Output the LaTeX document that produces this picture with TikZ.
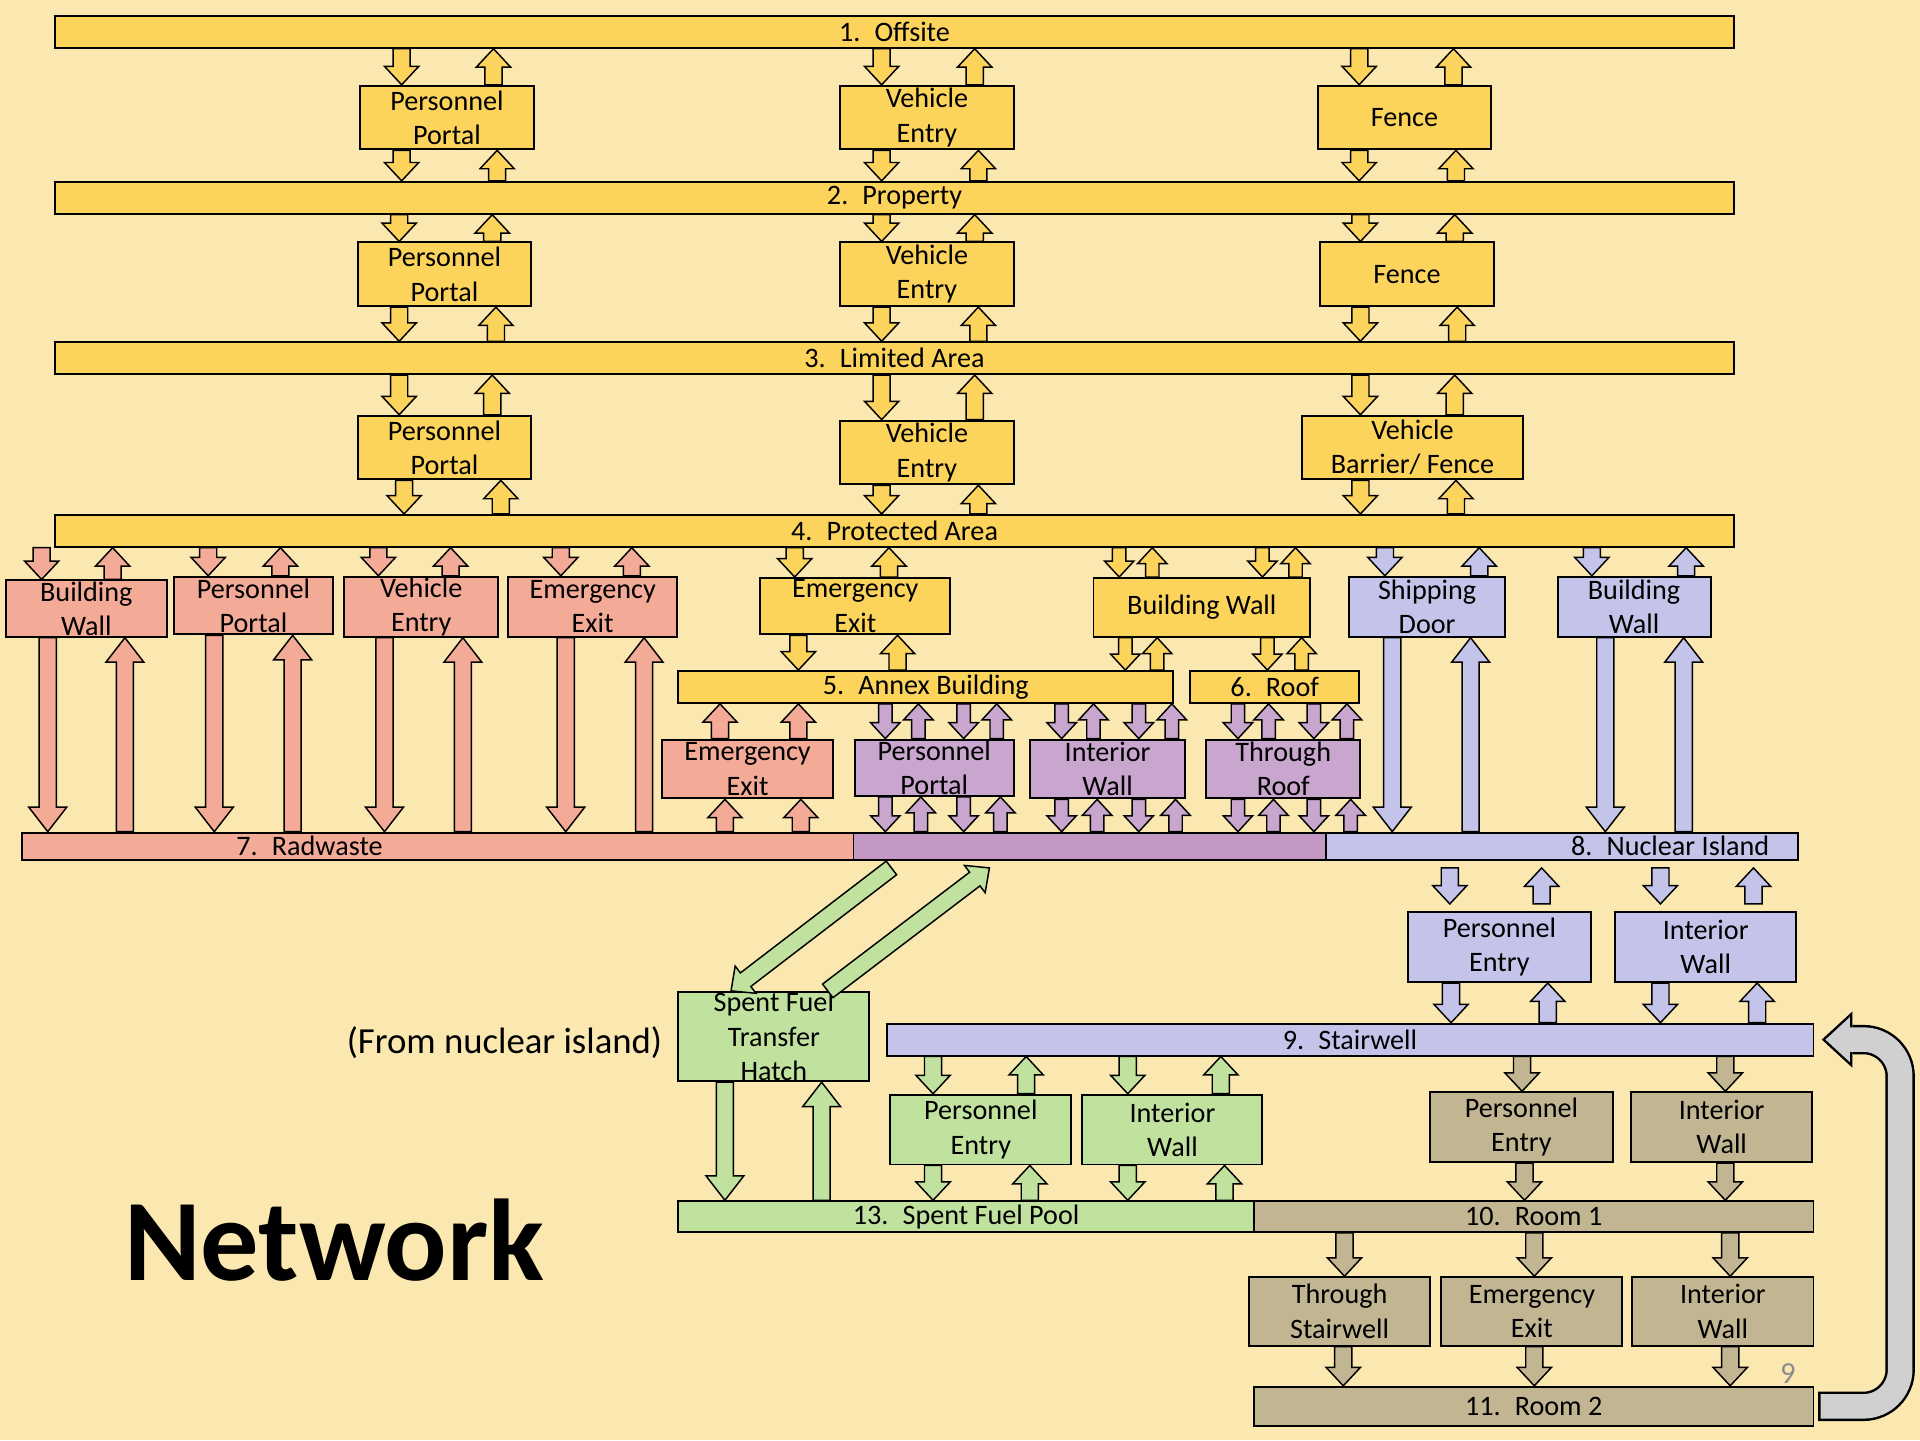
\documentclass[tikz,border=0pt]{standalone}
\usepackage{fontspec}
\setmainfont{Carlito}
\usetikzlibrary{calc,arrows.meta}

\definecolor{BG}{RGB}{250,232,176}
\definecolor{YEL}{RGB}{252,212,92}
\definecolor{RED}{RGB}{243,170,150}
\definecolor{PUR}{RGB}{200,166,205}
\definecolor{MIX}{RGB}{196,152,196}
\definecolor{BLU}{RGB}{196,196,234}
\definecolor{GRN}{RGB}{192,226,158}
\definecolor{OLV}{RGB}{194,182,146}
\definecolor{GRY}{RGB}{208,208,208}
\definecolor{PGN}{RGB}{140,140,140}

% block arrow: shaft half width, head half width, head length, colour, from, to
\newcommand{\blk}[6]{%
  \path #5 coordinate (ba) #6 coordinate (bb);
  \path ($(bb)!#3!(ba)$) coordinate (bc);
  \draw[line width=1.2pt, line join=miter, fill=#4] ($(ba)!#1!90:(bb)$) -- ($(bc)!#1!90:(bb)$) -- ($(bc)!#2!90:(bb)$) -- (bb) -- ($(bc)!#2!-90:(bb)$) -- ($(bc)!#1!-90:(bb)$) -- ($(ba)!#1!-90:(bb)$) -- cycle;}
\newcommand{\arr}[3]{\blk{7pt}{14pt}{15pt}{#1}{#2}{#3}}
\newcommand{\parr}[3]{\blk{5.5pt}{12pt}{13pt}{#1}{#2}{#3}}
\newcommand{\larr}[3]{\blk{7pt}{15.5pt}{20pt}{#1}{#2}{#3}}
% [gap]{colour}{x}{upper node}{lower node}
\newcommand{\arrdn}[5][0]{\arr{#2}{($(#4.south -| #3,0)+(0,#1)$)}{($(#5.north -| #3,0)-(0,#1)$)}}
\newcommand{\arrup}[5][0]{\arr{#2}{($(#4.north -| #3,0)-(0,#1)$)}{($(#5.south -| #3,0)+(0,#1)$)}}
\newcommand{\pdn}[4]{\parr{#1}{(#3.south -| #2,0)}{(#4.north -| #2,0)}}
\newcommand{\pup}[4]{\parr{#1}{(#3.north -| #2,0)}{(#4.south -| #2,0)}}
\newcommand{\ldn}[4]{\larr{#1}{(#3.south -| #2,0)}{(#4.north -| #2,0)}}
\newcommand{\lup}[4]{\larr{#1}{(#3.north -| #2,0)}{(#4.south -| #2,0)}}

\begin{document}
\begin{tikzpicture}[x=1pt,y=-1pt]

\tikzstyle{BAR} = [rectangle, draw=black, line width=1.6pt, inner sep=0pt, minimum height=26pt, font=\fontsize{23}{28}\selectfont]
\tikzstyle{BARLBL} = [inner sep=0pt, font=\fontsize{23}{28}\selectfont]
\tikzstyle{BOX} = [rectangle, draw=black, line width=1.6pt, inner sep=0pt, align=center, font=\fontsize{23}{28}\selectfont]
\tikzstyle{YBOX} = [BOX, fill=YEL, minimum width=142pt, minimum height=52pt]

\useasboundingbox (0,0) rectangle (1568,1176);
\fill[BG] (0,0) rectangle (1568,1176);

% yellow levels
\node (b1) [BAR, fill=YEL, minimum width=1371pt] at (730.5,26) {1.\hspace{0.5em}Offsite};
\node (b2) [BAR, fill=YEL, minimum width=1371pt] at (730.5,161.5) {2.\hspace{0.5em}Property};
\node (b3) [BAR, fill=YEL, minimum width=1371pt] at (730.5,292.5) {3.\hspace{0.5em}Limited Area};
\node (b4) [BAR, fill=YEL, minimum width=1371pt] at (730.5,433.5) {4.\hspace{0.5em}Protected Area};

\node (o1pp) [YBOX] at (365,96) {Personnel\\Portal};
\node (o1ve) [YBOX] at (757,96) {Vehicle\\Entry};
\node (o1fe) [YBOX] at (1147,96) {Fence};
\node (p2pp) [YBOX] at (363,224) {Personnel\\Portal};
\node (p2ve) [YBOX] at (757,224) {Vehicle\\Entry};
\node (p2fe) [YBOX] at (1149,224) {Fence};
\node (l3pp) [YBOX] at (363,365.5) {Personnel\\Portal};
\node (l3ve) [YBOX] at (757,369.5) {Vehicle\\Entry};
\node (l3vb) [YBOX, minimum width=181pt] at (1153.5,365.5) {Vehicle\\Barrier/ Fence};

% row under protected area
\node (r4bw) [BOX, fill=RED, minimum width=131pt, minimum height=46pt] at (70.5,497) {Building\\Wall};
\node (r4pp) [BOX, fill=RED, minimum width=130pt, minimum height=47pt] at (207,494.5) {Personnel\\Portal};
\node (r4ve) [BOX, fill=RED, minimum width=126pt, minimum height=49pt] at (344,495.5) {Vehicle\\Entry};
\node (r4ee) [BOX, fill=RED, minimum width=138pt, minimum height=49pt] at (484,495.5) {Emergency\\Exit};
\node (y4ee) [BOX, fill=YEL, minimum width=155pt, minimum height=46pt] at (698.5,495) {Emergency\\Exit};
\node (y4bw) [BOX, fill=YEL, minimum width=177pt, minimum height=48pt] at (981.5,496) {Building Wall};
\node (n4sd) [BOX, fill=BLU, minimum width=127pt, minimum height=49pt] at (1165.5,495.5) {Shipping\\Door};
\node (n4bw) [BOX, fill=BLU, minimum width=125pt, minimum height=49pt] at (1334.5,495.5) {Building\\Wall};

\node (b5) [BAR, fill=YEL, minimum width=404pt] at (756,561) {5.\hspace{0.5em}Annex Building};
\node (b6) [BAR, fill=YEL, minimum width=138pt] at (1041,561) {6.\hspace{0.5em}Roof};

\node (r5ee) [BOX, fill=RED, minimum width=139pt, minimum height=48pt] at (610.5,628) {Emergency\\Exit};
\node (u5pp) [BOX, fill=PUR, minimum width=130pt, minimum height=46pt] at (763,627) {Personnel\\Portal};
\node (u5iw) [BOX, fill=PUR, minimum width=127pt, minimum height=48pt] at (904.5,628) {Interior\\Wall};
\node (u5tr) [BOX, fill=PUR, minimum width=126pt, minimum height=48pt] at (1048,628) {Through\\Roof};

\node (rad) [BAR, fill=RED, minimum width=679pt, minimum height=22pt, label={[BARLBL, xshift=-104.7pt]center:7.\hspace{0.5em}Radwaste}] at (357.5,691) {};
\node (mix) [BAR, fill=MIX, minimum width=386pt, minimum height=22pt] at (890,691) {};
\node (nuc) [BAR, fill=BLU, minimum width=385pt, minimum height=22pt, label={[BARLBL, xshift=88.5pt]center:8.\hspace{0.5em}Nuclear Island}] at (1275.5,691) {};

% lower part
\node (n8pe) [BOX, fill=BLU, minimum width=149pt, minimum height=57pt] at (1224.5,773.5) {Personnel\\Entry};
\node (n8iw) [BOX, fill=BLU, minimum width=148pt, minimum height=57pt] at (1393,773.5) {Interior\\Wall};
\node (b9) [BAR, fill=BLU, minimum width=757pt] at (1102.5,849) {9.\hspace{0.5em}Stairwell};
\node (hatch) [BOX, fill=GRN, minimum width=156pt, minimum height=73pt] at (632,846.5) {Spent Fuel\\Transfer\\Hatch};
\node (g9pe) [BOX, fill=GRN, minimum width=148pt, minimum height=57pt] at (801,922.5) {Personnel\\Entry};
\node (g9iw) [BOX, fill=GRN, minimum width=147pt, minimum height=57pt] at (957.5,922.5) {Interior\\Wall};
\node (o9pe) [BOX, fill=OLV, minimum width=149pt, minimum height=57pt] at (1242.5,920.5) {Personnel\\Entry};
\node (o9iw) [BOX, fill=OLV, minimum width=148pt, minimum height=57pt] at (1406,920.5) {Interior\\Wall};
\node (b13) [BAR, fill=GRN, minimum width=470pt, minimum height=25pt] at (789,993.5) {13.\hspace{0.5em}Spent Fuel Pool};
\node (b10) [BAR, fill=OLV, minimum width=457pt, minimum height=25pt] at (1252.5,993.5) {10.\hspace{0.5em}Room 1};
\node (o10ts) [BOX, fill=OLV, minimum width=148pt, minimum height=56pt] at (1094,1071) {Through\\Stairwell};
\node (o10ee) [BOX, fill=OLV, minimum width=148pt, minimum height=56pt] at (1251,1071) {Emergency\\Exit};
\node (o10iw) [BOX, fill=OLV, minimum width=148pt, minimum height=56pt] at (1407,1071) {Interior\\Wall};
\node (b11) [BAR, fill=OLV, minimum width=457pt, minimum height=32pt] at (1252.5,1148.5) {11.\hspace{0.5em}Room 2};

\node (from) [font=\fontsize{30}{36}\selectfont, anchor=base] at (412,860) {(From nuclear island)};
\node (net) [font=\fontsize{95}{95}\selectfont\bfseries, anchor=base] at (273,1046) {Network};
\node (pg) [font=\fontsize{25}{30}\selectfont, text=PGN, anchor=base] at (1460,1130) {9};

% yellow arrows
\arrdn{YEL}{328}{b1}{o1pp} \arrup{YEL}{403}{o1pp}{b1}
\arrdn{YEL}{720}{b1}{o1ve} \arrup{YEL}{796}{o1ve}{b1}
\arrdn{YEL}{1110}{b1}{o1fe} \arrup{YEL}{1187}{o1fe}{b1}
\arrdn{YEL}{328}{o1pp}{b2} \arrup{YEL}{406}{b2}{o1pp}
\arrdn{YEL}{720}{o1ve}{b2} \arrup{YEL}{799}{b2}{o1ve}
\arrdn{YEL}{1110}{o1fe}{b2} \arrup{YEL}{1189}{b2}{o1fe}
\arrdn{YEL}{326}{b2}{p2pp} \arrup{YEL}{402}{p2pp}{b2}
\arrdn{YEL}{720}{b2}{p2ve} \arrup{YEL}{796}{p2ve}{b2}
\arrdn{YEL}{1111}{b2}{p2fe} \arrup{YEL}{1188}{p2fe}{b2}
\arrdn{YEL}{326}{p2pp}{b3} \arrup{YEL}{405}{b3}{p2pp}
\arrdn{YEL}{720}{p2ve}{b3} \arrup{YEL}{799}{b3}{p2ve}
\arrdn{YEL}{1111}{p2fe}{b3} \arrup{YEL}{1190}{b3}{p2fe}
\arrdn{YEL}{326}{b3}{l3pp} \arrup{YEL}{402}{l3pp}{b3}
\arrdn{YEL}{720}{b3}{l3ve} \arrup{YEL}{796}{l3ve}{b3}
\arrdn{YEL}{1111}{b3}{l3vb} \arrup{YEL}{1188}{l3vb}{b3}
\arrdn{YEL}{330}{l3pp}{b4} \arrup{YEL}{409}{b4}{l3pp}
\arrdn{YEL}{720}{l3ve}{b4} \arrup{YEL}{799}{b4}{l3ve}
\arrdn{YEL}{1111}{l3vb}{b4} \arrup{YEL}{1189}{b4}{l3vb}

% protected area to its doors
\arrdn{RED}{34}{b4}{r4bw} \arrup{RED}{92}{r4bw}{b4}
\arrdn{RED}{170}{b4}{r4pp} \arrup{RED}{229}{r4pp}{b4}
\arrdn{RED}{309}{b4}{r4ve} \arrup{RED}{368}{r4ve}{b4}
\arrdn{RED}{458}{b4}{r4ee} \arrup{RED}{516}{r4ee}{b4}
\arrdn{YEL}{649}{b4}{y4ee} \arrup{YEL}{726}{y4ee}{b4}
\pdn{YEL}{914}{b4}{y4bw} \pup{YEL}{941}{y4bw}{b4}
\pdn{YEL}{1031}{b4}{y4bw} \pup{YEL}{1058}{y4bw}{b4}
\arrdn{BLU}{1131}{b4}{n4sd} \arrup{BLU}{1208}{n4sd}{b4}
\arrdn{BLU}{1300}{b4}{n4bw} \arrup{BLU}{1377}{n4bw}{b4}

% long ones
\ldn{RED}{39}{r4bw}{rad} \lup{RED}{102}{rad}{r4bw}
\ldn{RED}{175}{r4pp}{rad} \lup{RED}{239}{rad}{r4pp}
\ldn{RED}{314}{r4ve}{rad} \lup{RED}{378}{rad}{r4ve}
\ldn{RED}{462}{r4ee}{rad} \lup{RED}{526}{rad}{r4ee}
\ldn{BLU}{1137}{n4sd}{nuc} \lup{BLU}{1201}{nuc}{n4sd}
\ldn{BLU}{1311}{n4bw}{nuc} \lup{BLU}{1375}{nuc}{n4bw}

% annex and roof
\arrdn{YEL}{652}{y4ee}{b5} \arrup{YEL}{733}{b5}{y4ee}
\pdn{YEL}{919}{y4bw}{b5} \pup{YEL}{945}{b5}{y4bw}
\pdn{YEL}{1035}{y4bw}{b6} \pup{YEL}{1063}{b6}{y4bw}
\arrup{RED}{588}{r5ee}{b5} \arrup{RED}{652}{r5ee}{b5}
\arrup{RED}{592}{rad}{r5ee} \arrup{RED}{654}{rad}{r5ee}
\pdn{PUR}{723}{b5}{u5pp} \pup{PUR}{750}{u5pp}{b5} \pdn{PUR}{787}{b5}{u5pp} \pup{PUR}{814}{u5pp}{b5}
\pdn{PUR}{723}{u5pp}{mix} \pup{PUR}{752}{mix}{u5pp} \pdn{PUR}{787}{u5pp}{mix} \pup{PUR}{817}{mix}{u5pp}
\pdn{PUR}{867}{b5}{u5iw} \pup{PUR}{893}{u5iw}{b5} \pdn{PUR}{930}{b5}{u5iw} \pup{PUR}{957}{u5iw}{b5}
\pdn{PUR}{867}{u5iw}{mix} \pup{PUR}{896}{mix}{u5iw} \pdn{PUR}{930}{u5iw}{mix} \pup{PUR}{960}{mix}{u5iw}
\pdn{PUR}{1011}{b6}{u5tr} \pup{PUR}{1036}{u5tr}{b6} \pdn{PUR}{1073}{b6}{u5tr} \pup{PUR}{1100}{u5tr}{b6}
\pdn{PUR}{1011}{u5tr}{mix} \pup{PUR}{1040}{mix}{u5tr} \pdn{PUR}{1073}{u5tr}{mix} \pup{PUR}{1103}{nuc}{u5tr}

% nuclear island down to stairwell
\arrdn[6]{BLU}{1184}{nuc}{n8pe} \arrup[6]{BLU}{1259}{n8pe}{nuc}
\arrdn[6]{BLU}{1356}{nuc}{n8iw} \arrup[6]{BLU}{1432}{n8iw}{nuc}
\arrdn{BLU}{1185}{n8pe}{b9} \arrup{BLU}{1264}{b9}{n8pe}
\arrdn{BLU}{1356}{n8iw}{b9} \arrup{BLU}{1435}{b9}{n8iw}

% spent fuel
\arr{GRN}{($(mix.south -| 728,0)+(0,6)$)}{(hatch.north -| 597,0)}
\arr{GRN}{(hatch.north -| 676,0)}{($(mix.south -| 808,0)+(0,6)$)}
\ldn{GRN}{592}{hatch}{b13} \lup{GRN}{671}{b13}{hatch}
\arrdn{GRN}{762}{b9}{g9pe} \arrup{GRN}{838}{g9pe}{b9}
\arrdn{GRN}{921}{b9}{g9iw} \arrup{GRN}{997}{g9iw}{b9}
\arrdn{GRN}{762}{g9pe}{b13} \arrup{GRN}{841}{b13}{g9pe}
\arrdn{GRN}{921}{g9iw}{b13} \arrup{GRN}{1000}{b13}{g9iw}

% rooms
\arrdn{OLV}{1243}{b9}{o9pe} \arrdn{OLV}{1409}{b9}{o9iw}
\arrdn{OLV}{1245}{o9pe}{b10} \arrdn{OLV}{1409}{o9iw}{b10}
\arrdn{OLV}{1098}{b10}{o10ts} \arrdn{OLV}{1253}{b10}{o10ee} \arrdn{OLV}{1413}{b10}{o10iw}
\arrdn{OLV}{1097}{o10ts}{b11} \arrdn{OLV}{1253}{o10ee}{b11} \arrdn{OLV}{1413}{o10iw}{b11}

% back to the stairwell
\draw[line width=24pt, rounded corners=30pt, -{Triangle[length=25pt,width=46pt,line width=0pt]}] ([xshift=3pt]b11.east) -- ++(67,0) |- ([xshift=6pt]b9.east);
\draw[GRY, line width=20pt, rounded corners=30pt, shorten >=3pt, -{Triangle[length=20pt,width=37pt,line width=0pt]}] ([xshift=5pt]b11.east) -- ++(65,0) |- ([xshift=6pt]b9.east);

\end{tikzpicture}
\end{document}
